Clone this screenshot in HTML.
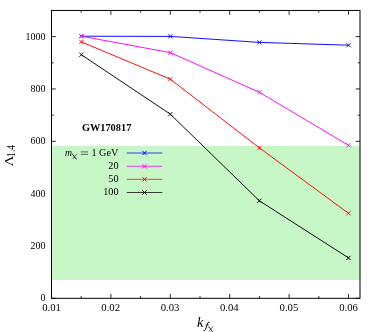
<!DOCTYPE html>
<html><head><meta charset="utf-8">
<style>
html,body{margin:0;padding:0;background:#fff;}
body{width:379px;height:332px;overflow:hidden;}
svg{display:block;will-change:transform;opacity:0.9999;}
text{font-family:"Liberation Serif",serif;fill:#000;}
</style></head><body>
<svg width="379" height="332" viewBox="0 0 379 332">
<rect width="379" height="332" fill="#fff"/>
<g stroke="#000" stroke-width="0.85">
<line x1="51.5" y1="298.30" x2="55.80" y2="298.30"/>
<line x1="360.0" y1="298.30" x2="355.70" y2="298.30"/>
<line x1="51.5" y1="272.13" x2="53.70" y2="272.13"/>
<line x1="360.0" y1="272.13" x2="357.80" y2="272.13"/>
<line x1="51.5" y1="245.96" x2="55.80" y2="245.96"/>
<line x1="360.0" y1="245.96" x2="355.70" y2="245.96"/>
<line x1="51.5" y1="219.80" x2="53.70" y2="219.80"/>
<line x1="360.0" y1="219.80" x2="357.80" y2="219.80"/>
<line x1="51.5" y1="193.63" x2="55.80" y2="193.63"/>
<line x1="360.0" y1="193.63" x2="355.70" y2="193.63"/>
<line x1="51.5" y1="167.46" x2="53.70" y2="167.46"/>
<line x1="360.0" y1="167.46" x2="357.80" y2="167.46"/>
<line x1="51.5" y1="141.29" x2="55.80" y2="141.29"/>
<line x1="360.0" y1="141.29" x2="355.70" y2="141.29"/>
<line x1="51.5" y1="115.12" x2="53.70" y2="115.12"/>
<line x1="360.0" y1="115.12" x2="357.80" y2="115.12"/>
<line x1="51.5" y1="88.95" x2="55.80" y2="88.95"/>
<line x1="360.0" y1="88.95" x2="355.70" y2="88.95"/>
<line x1="51.5" y1="62.79" x2="53.70" y2="62.79"/>
<line x1="360.0" y1="62.79" x2="357.80" y2="62.79"/>
<line x1="51.5" y1="36.62" x2="55.80" y2="36.62"/>
<line x1="360.0" y1="36.62" x2="355.70" y2="36.62"/>
<line x1="81.20" y1="298.3" x2="81.20" y2="296.10"/>
<line x1="81.20" y1="10.45" x2="81.20" y2="12.65"/>
<line x1="110.90" y1="298.3" x2="110.90" y2="294.00"/>
<line x1="110.90" y1="10.45" x2="110.90" y2="14.75"/>
<line x1="140.60" y1="298.3" x2="140.60" y2="296.10"/>
<line x1="140.60" y1="10.45" x2="140.60" y2="12.65"/>
<line x1="170.30" y1="298.3" x2="170.30" y2="294.00"/>
<line x1="170.30" y1="10.45" x2="170.30" y2="14.75"/>
<line x1="200.00" y1="298.3" x2="200.00" y2="296.10"/>
<line x1="200.00" y1="10.45" x2="200.00" y2="12.65"/>
<line x1="229.70" y1="298.3" x2="229.70" y2="294.00"/>
<line x1="229.70" y1="10.45" x2="229.70" y2="14.75"/>
<line x1="259.40" y1="298.3" x2="259.40" y2="296.10"/>
<line x1="259.40" y1="10.45" x2="259.40" y2="12.65"/>
<line x1="289.10" y1="298.3" x2="289.10" y2="294.00"/>
<line x1="289.10" y1="10.45" x2="289.10" y2="14.75"/>
<line x1="318.80" y1="298.3" x2="318.80" y2="296.10"/>
<line x1="318.80" y1="10.45" x2="318.80" y2="12.65"/>
<line x1="348.50" y1="298.3" x2="348.50" y2="294.00"/>
<line x1="348.50" y1="10.45" x2="348.50" y2="14.75"/>
</g>
<rect x="51.5" y="145.9" width="308.50" height="134.00" fill="#c7f6c7"/>
<rect x="51.5" y="10.45" width="308.50" height="287.85" fill="none" stroke="#000" stroke-width="1.0"/>
<g fill="none" stroke-width="0.95">
<polyline stroke="#0000ff" points="81.4,36.2 170.3,36.4 259.4,42.4 348.5,45.2"/>
<line stroke="#0000ff" stroke-width="0.75" x1="126.8" y1="153.0" x2="162.3" y2="153.0"/>
<polyline stroke="#ff00ff" points="81.4,36.2 170.3,52.65 259.4,92.3 348.5,145.3"/>
<line stroke="#ff00ff" stroke-width="0.75" x1="126.8" y1="166.3" x2="162.3" y2="166.3"/>
<polyline stroke="#ff0000" points="81.4,41.9 170.3,79.2 259.4,147.9 348.5,213.3"/>
<line stroke="#ff0000" stroke-width="0.75" x1="126.8" y1="179.3" x2="162.3" y2="179.3"/>
<polyline stroke="#000000" points="81.4,54.75 170.3,114.15 259.4,200.8 348.5,257.9"/>
<line stroke="#000000" stroke-width="0.75" x1="126.8" y1="192.5" x2="162.3" y2="192.5"/>
</g>
<g fill="none" stroke-width="0.95">
<path stroke="#0000ff" d="M79.30,34.10L83.50,38.30M79.30,38.30L83.50,34.10M168.20,34.30L172.40,38.50M168.20,38.50L172.40,34.30M257.30,40.30L261.50,44.50M257.30,44.50L261.50,40.30M346.40,43.10L350.60,47.30M346.40,47.30L350.60,43.10M142.40,150.90L146.60,155.10M142.40,155.10L146.60,150.90"/>
<path stroke="#ff00ff" d="M79.30,34.10L83.50,38.30M79.30,38.30L83.50,34.10M168.20,50.55L172.40,54.75M168.20,54.75L172.40,50.55M257.30,90.20L261.50,94.40M257.30,94.40L261.50,90.20M346.40,143.20L350.60,147.40M346.40,147.40L350.60,143.20M142.40,164.20L146.60,168.40M142.40,168.40L146.60,164.20"/>
<path stroke="#ff0000" d="M79.30,39.80L83.50,44.00M79.30,44.00L83.50,39.80M168.20,77.10L172.40,81.30M168.20,81.30L172.40,77.10M257.30,145.80L261.50,150.00M257.30,150.00L261.50,145.80M346.40,211.20L350.60,215.40M346.40,215.40L350.60,211.20M142.40,177.20L146.60,181.40M142.40,181.40L146.60,177.20"/>
<path stroke="#000000" d="M79.30,52.65L83.50,56.85M79.30,56.85L83.50,52.65M168.20,112.05L172.40,116.25M168.20,116.25L172.40,112.05M257.30,198.70L261.50,202.90M257.30,202.90L261.50,198.70M346.40,255.80L350.60,260.00M346.40,260.00L350.60,255.80M142.40,190.40L146.60,194.60M142.40,194.60L146.60,190.40"/>
</g>
<g font-size="10.4" text-anchor="end">
<text transform="translate(45.40,301.35) scale(0.96,1.08)" text-anchor="end">0</text>
<text transform="translate(45.40,249.01) scale(0.96,1.08)" text-anchor="end">200</text>
<text transform="translate(45.40,196.68) scale(0.96,1.08)" text-anchor="end">400</text>
<text transform="translate(45.40,144.34) scale(0.96,1.08)" text-anchor="end">600</text>
<text transform="translate(45.40,92.00) scale(0.96,1.08)" text-anchor="end">800</text>
<text transform="translate(45.40,39.67) scale(0.96,1.08)" text-anchor="end">1000</text>
</g>
<g font-size="10.4" text-anchor="middle">
<text transform="translate(51.50,311.40) scale(1.03,1.04)" text-anchor="middle">0.01</text>
<text transform="translate(110.70,311.40) scale(1.03,1.04)" text-anchor="middle">0.02</text>
<text transform="translate(170.10,311.40) scale(1.03,1.04)" text-anchor="middle">0.03</text>
<text transform="translate(229.25,311.40) scale(1.03,1.04)" text-anchor="middle">0.04</text>
<text transform="translate(288.90,311.40) scale(1.03,1.04)" text-anchor="middle">0.05</text>
<text transform="translate(348.50,311.40) scale(1.03,1.04)" text-anchor="middle">0.06</text>
</g>
<text transform="translate(81.90,130.80) scale(0.995,1.09)" font-size="10.4" font-weight="bold">GW170817</text>
<g font-size="10.4">
<text transform="translate(64.90,155.70) scale(1.0,1.05)" font-size="9.6" font-style="italic">m</text>
<path d="M71.8,154.5q0.6,-0.7 1.3,0.3l2.4,3.6q0.7,1 1.3,0.3" stroke="#000" stroke-width="0.9" fill="none"/>
<path d="M76.9,153.6L72.7,159" stroke="#000" stroke-width="0.55" fill="none"/>
<path d="M80.9,151.9H88M80.9,154.3H88" stroke="#000" stroke-width="0.6" fill="none"/>
<text transform="translate(118.30,155.95) scale(1.0,1.08)" text-anchor="end" font-size="10.2">1 GeV</text>
<text transform="translate(118.50,169.10) scale(0.98,1.08)" text-anchor="end">20</text>
<text transform="translate(118.50,182.20) scale(0.98,1.08)" text-anchor="end">50</text>
<text transform="translate(118.50,195.40) scale(0.98,1.08)" text-anchor="end">100</text>
</g>
<g transform="translate(13.3,166.5) rotate(-90)">
<text transform="scale(1.15,1)" font-size="13.2">Λ</text>
<text transform="translate(9.6,1.6) scale(0.97,1.15)" font-size="10">1.4</text>
</g>
<text x="196.9" y="326.7" font-size="14.4" font-style="italic">k</text>
<path d="M209.7,322.9C209.3,322 208.3,321.9 207.8,323L205.6,329.3C205.2,330.6 204.2,331 203.4,330.1" stroke="#000" stroke-width="0.95" fill="none"/>
<path d="M205.4,324.9H208.8" stroke="#000" stroke-width="0.6" fill="none"/>
<g transform="translate(136.4,172.7)"><path d="M71.8,154.5q0.6,-0.7 1.3,0.3l2.4,3.6q0.7,1 1.3,0.3" stroke="#000" stroke-width="0.9" fill="none"/><path d="M76.7,153.6L72.5,159" stroke="#000" stroke-width="0.55" fill="none"/></g>
</svg>
</body></html>
